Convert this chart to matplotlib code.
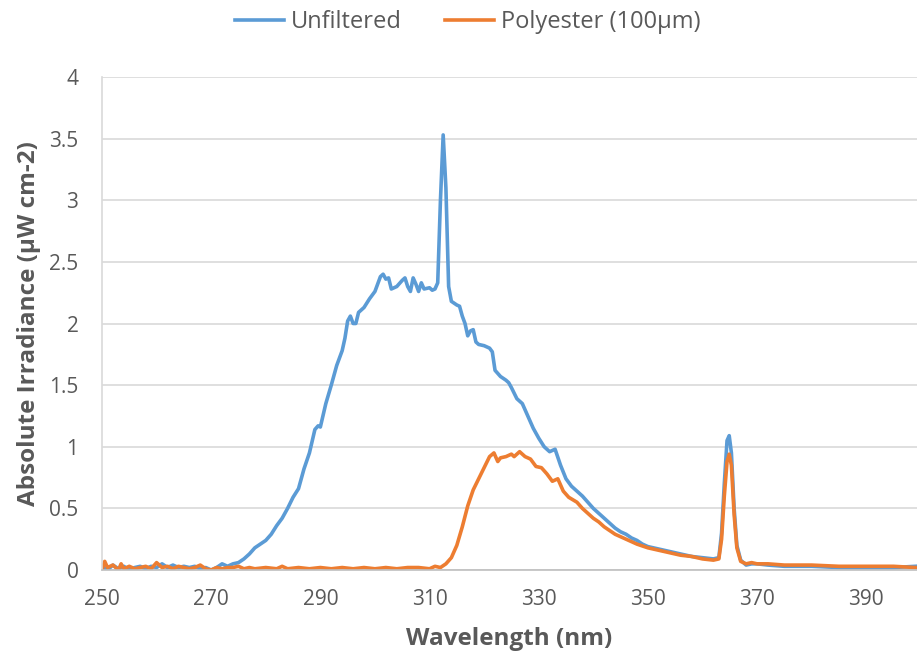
import matplotlib
matplotlib.use("Agg")
import matplotlib.pyplot as plt

# wavelength (nm) / absolute irradiance
wl_unf = [250, 251, 252, 253, 254, 255, 256, 257, 258, 259, 260, 261, 262, 263, 264, 265,
          266, 267, 268, 269, 270, 271, 272, 273, 274, 275, 276, 277, 278, 279, 280, 281,
          282, 283, 284, 285, 286, 287, 288, 289, 289.6, 290, 291, 292, 293, 293.5, 294,
          294.5, 295, 295.5, 296, 296.5, 297, 298, 299, 300, 301, 301.5, 302, 302.5, 303,
          304, 305, 305.5, 306, 306.5, 307, 307.5, 308, 308.5, 309, 310, 310.5, 311, 311.5,
          312, 312.5, 313, 313.5, 314, 315, 315.5, 316, 316.5, 317, 317.5, 318, 318.5, 319,
          320, 321, 321.5, 322, 323, 324, 324.5, 325, 326, 327, 328, 329, 330, 331, 332,
          333, 334, 335, 336, 337, 338, 339, 340, 341, 342, 343, 344, 345, 346, 347, 348,
          349, 350, 352, 354, 356, 358, 360, 362, 363, 363.5, 364, 364.5, 364.9, 365.3,
          365.8, 366.3, 367, 368, 369, 370, 372, 375, 380, 385, 390, 395, 399]
unfiltered = [0.03, 0.0, 0.04, 0.01, 0.03, 0.0, 0.02, 0.03, 0.01, 0.03, 0.02, 0.05, 0.02, 0.04,
              0.02, 0.03, 0.02, 0.03, 0.01, 0.02, 0.0, 0.02, 0.05, 0.03, 0.05, 0.06, 0.09,
              0.13, 0.18, 0.21, 0.24, 0.29, 0.36, 0.42, 0.5, 0.59, 0.66, 0.82, 0.95, 1.14,
              1.17, 1.16, 1.35, 1.5, 1.66, 1.72, 1.78, 1.88, 2.02, 2.06, 2.0, 2.0, 2.09, 2.13,
              2.2, 2.26, 2.38, 2.4, 2.36, 2.37, 2.28, 2.3, 2.35, 2.37, 2.3, 2.26, 2.37, 2.32,
              2.26, 2.33, 2.28, 2.29, 2.27, 2.28, 2.33, 3.0, 3.53, 3.1, 2.3, 2.18, 2.15, 2.14,
              2.06, 2.0, 1.9, 1.94, 1.95, 1.85, 1.83, 1.82, 1.8, 1.77, 1.62, 1.57, 1.54, 1.52,
              1.48, 1.39, 1.35, 1.25, 1.15, 1.07, 1.0, 0.96, 0.98, 0.85, 0.74, 0.68, 0.64,
              0.6, 0.55, 0.5, 0.46, 0.42, 0.38, 0.34, 0.31, 0.29, 0.26, 0.24, 0.21, 0.19,
              0.17, 0.15, 0.13, 0.11, 0.1, 0.09, 0.1, 0.3, 0.7, 1.05, 1.09, 0.95, 0.5, 0.2,
              0.08, 0.04, 0.05, 0.05, 0.04, 0.03, 0.03, 0.02, 0.02, 0.02, 0.03]

wl_poly = [250, 250.5, 251, 252, 253, 253.5, 254, 255, 256, 257, 258, 259, 260, 261, 262, 263,
           264, 265, 266, 267, 268, 269, 270, 271, 272, 273, 274, 275, 276, 277, 278, 280,
           282, 283, 284, 286, 288, 290, 292, 294, 296, 298, 300, 302, 304, 306, 308, 310,
           311, 312, 313, 314, 315, 316, 317, 318, 319, 320, 321, 321.8, 322.5, 323, 324,
           325, 325.5, 326.5, 327.5, 328.5, 329.5, 330.5, 331.5, 332.5, 333.5, 334.5, 335.5,
           337, 338, 339, 340, 341, 342, 343, 344, 345, 346, 347, 348, 350, 352, 354, 356,
           358, 360, 362, 363, 363.5, 364, 364.5, 364.9, 365.3, 365.8, 366.3, 367, 368, 369,
           370, 372, 375, 380, 385, 390, 395, 399]
polyester = [0.0, 0.07, 0.02, 0.04, 0.0, 0.05, 0.01, 0.03, 0.01, 0.02, 0.03, 0.01, 0.06, 0.02,
             0.03, 0.01, 0.03, 0.02, 0.01, 0.02, 0.04, 0.01, 0.0, 0.02, 0.01, 0.02, 0.02, 0.03,
             0.01, 0.02, 0.01, 0.02, 0.01, 0.03, 0.01, 0.02, 0.01, 0.02, 0.01, 0.02, 0.01,
             0.02, 0.01, 0.02, 0.01, 0.02, 0.02, 0.01, 0.03, 0.02, 0.05, 0.1, 0.2, 0.35, 0.52,
             0.65, 0.74, 0.83, 0.92, 0.95, 0.88, 0.91, 0.92, 0.94, 0.92, 0.96, 0.92, 0.9, 0.84,
             0.83, 0.78, 0.72, 0.74, 0.64, 0.59, 0.55, 0.5, 0.46, 0.42, 0.39, 0.35, 0.32, 0.29,
             0.27, 0.25, 0.23, 0.21, 0.18, 0.16, 0.14, 0.12, 0.11, 0.09, 0.08, 0.09, 0.25, 0.6,
             0.88, 0.94, 0.85, 0.45, 0.18, 0.07, 0.05, 0.06, 0.05, 0.05, 0.04, 0.04, 0.03,
             0.03, 0.03, 0.02]

x_ticks = [250, 270, 290, 310, 330, 350, 370, 390]
y_ticks = [0, 0.5, 1, 1.5, 2, 2.5, 3, 3.5, 4]
y_labels = ["0", "0.5", "1", "1.5", "2", "2.5", "3", "3.5", "4"]

plt.rcParams['font.family'] = ['Open Sans', 'DejaVu Sans']
grey = "#595959"

fig = plt.figure(figsize=(9.17, 6.62), dpi=100)
ax = fig.add_axes([102 / 917, 92 / 662, 815 / 917, 493 / 662])

ax.plot(wl_unf, unfiltered, color="#5B9BD5", lw=2.6, label="Unfiltered", solid_joinstyle="round")
ax.plot(wl_poly, polyester, color="#ED7D31", lw=2.6, label="Polyester (100µm)", solid_joinstyle="round")

ax.set_xlim(250, 399.3)
ax.set_ylim(0, 4)
ax.set_xticks(x_ticks)
ax.set_yticks(y_ticks)
ax.set_yticklabels(y_labels)
ax.tick_params(length=0, labelsize=15, labelcolor=grey)
ax.tick_params(axis="x", pad=14)
ax.tick_params(axis="y", pad=17)
ax.yaxis.grid(True, color="#D9D9D9", lw=1.2)
ax.set_axisbelow(True)
for s in ["top", "right"]:
    ax.spines[s].set_visible(False)
ax.spines["left"].set_color("#D9D9D9")
ax.spines["left"].set_linewidth(1.2)
ax.spines["bottom"].set_color("#BFBFBF")
ax.spines["bottom"].set_linewidth(1.2)

ax.set_xlabel("Wavelength (nm)", fontsize=17.5, fontweight="bold", color=grey, labelpad=12)
ax.set_ylabel("Absolute Irradiance (µW cm-2)", fontsize=17.5, fontweight="bold", color=grey, labelpad=6)

fig.legend(loc="center", bbox_to_anchor=(0.51, 0.967), ncol=2, frameon=False,
           fontsize=17, labelcolor=grey, handlelength=2.1, handletextpad=0.3,
           columnspacing=1.8)

fig.savefig("out.png", dpi=100)
